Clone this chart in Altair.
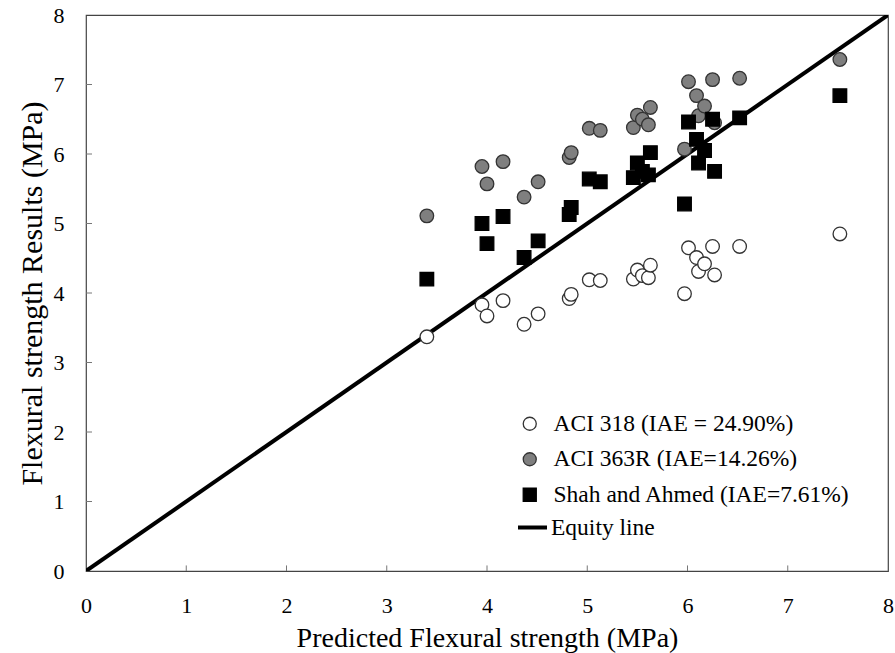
import altair as alt
import pandas as pd

# Shared predicted values (x) for the three models
predicted = [3.40, 3.95, 4.00, 4.16, 4.37, 4.51, 4.82, 4.84, 5.02, 5.13, 5.46, 5.50,
             5.55, 5.61, 5.63, 5.97, 6.01, 6.09, 6.11, 6.17, 6.25, 6.27, 6.52, 7.52]
aci318 = [3.37, 3.83, 3.67, 3.89, 3.55, 3.70, 3.92, 3.98, 4.19, 4.18, 4.20, 4.33,
          4.25, 4.22, 4.40, 3.99, 4.65, 4.51, 4.31, 4.42, 4.67, 4.26, 4.67, 4.85]
aci363 = [5.11, 5.82, 5.57, 5.89, 5.38, 5.60, 5.95, 6.02, 6.37, 6.34, 6.38, 6.56,
          6.50, 6.42, 6.67, 6.07, 7.04, 6.84, 6.55, 6.69, 7.07, 6.45, 7.09, 7.36]
shah = [4.20, 5.00, 4.71, 5.10, 4.51, 4.75, 5.13, 5.23, 5.64, 5.60, 5.66, 5.87,
        5.75, 5.70, 6.02, 5.28, 6.46, 6.21, 5.87, 6.05, 6.50, 5.75, 6.52, 6.84]

series_names = ["ACI 318 (IAE = 24.90%)", "ACI 363R (IAE=14.26%)",
                "Shah and Ahmed (IAE=7.61%)"]
line_name = ["Equity line"]
equity_x = [0, 8]
ticks = [1, 2, 3, 4, 5, 6, 7]

rows = []
for name, ys in zip(series_names, [aci318, aci363, shah]):
    for xv, yv in zip(predicted, ys):
        rows.append({"x": xv, "y": yv, "series": name})
pts = pd.DataFrame(rows)
line_df = pd.DataFrame({"x": equity_x, "y": equity_x, "series": line_name * 2})
xt = pd.DataFrame({"v": ticks, "z": 0.0, "z2": 0.08})
yt = pd.DataFrame({"v": ticks, "z": 0.0, "z2": 0.06})

FONT = "Liberation Serif"
xscale = alt.Scale(domain=[0, 8], nice=False, zero=False)
yscale = alt.Scale(domain=[0, 8], nice=False, zero=False)

xaxis = alt.Axis(values=[0, 1, 2, 3, 4, 5, 6, 7, 8], format="d", grid=False, domain=False,
                 ticks=False, labelFont=FONT, labelFontSize=22, labelColor="black",
                 labelPadding=24, title="Predicted Flexural strength (MPa)",
                 titleFont=FONT, titleFontSize=28, titleFontWeight="normal",
                 titleColor="black", titlePadding=8, labelFlush=False)
yaxis = alt.Axis(values=[0, 1, 2, 3, 4, 5, 6, 7, 8], format="d", grid=False, domain=False,
                 ticks=False, labelFont=FONT, labelFontSize=22, labelColor="black",
                 labelPadding=22, title="Flexural strength Results (MPa)",
                 titleFont=FONT, titleFontSize=30, titleFontWeight="normal",
                 titleColor="black", titlePadding=6, labelFlush=False)

pt_legend = alt.Legend(orient="none", legendX=432, legendY=397, title=None,
                       labelFont=FONT, labelFontSize=23.5, labelColor="black",
                       labelLimit=0, rowPadding=10.5, labelOffset=12,
                       symbolSize=170, symbolStrokeWidth=1.3)
line_legend = alt.Legend(orient="none", legendX=430, legendY=496, title=None,
                         labelFont=FONT, labelFontSize=23.5, labelColor="black",
                         labelLimit=0, labelOffset=2, symbolType="stroke",
                         symbolSize=841, symbolStrokeWidth=4, symbolStrokeColor="black")

fill_scale = alt.Scale(domain=series_names, range=["white", "#7f7f7f", "black"])
stroke_scale = alt.Scale(domain=series_names, range=["#333333", "#333333", "black"])
shape_scale = alt.Scale(domain=series_names, range=["circle", "circle", "square"])

equity = alt.Chart(line_df).mark_line(strokeWidth=4, clip=True).encode(
    x=alt.X("x:Q", scale=xscale, axis=xaxis),
    y=alt.Y("y:Q", scale=yscale, axis=yaxis),
    color=alt.Color("series:N", scale=alt.Scale(domain=line_name, range=["black"]),
                    legend=line_legend),
)

points = alt.Chart(pts).mark_point(filled=True, opacity=1, size=185, strokeWidth=1.3).encode(
    x=alt.X("x:Q", scale=xscale),
    y=alt.Y("y:Q", scale=yscale),
    fill=alt.Fill("series:N", scale=fill_scale, legend=pt_legend, sort=series_names),
    stroke=alt.Stroke("series:N", scale=stroke_scale, legend=pt_legend, sort=series_names),
    shape=alt.Shape("series:N", scale=shape_scale, legend=pt_legend, sort=series_names),
)

xticks = alt.Chart(xt).mark_rule(color="#777777", strokeWidth=1).encode(
    x="v:Q", y="z:Q", y2="z2:Q")
yticks = alt.Chart(yt).mark_rule(color="#777777", strokeWidth=1).encode(
    y="v:Q", x="z:Q", x2="z2:Q")

chart = alt.layer(xticks, yticks, equity, points).properties(
    width=802, height=556,
    autosize=alt.AutoSizeParams(type="none"),
    padding={"left": 86, "top": 15, "right": 7, "bottom": 82},
    background="white",
).configure_view(stroke="#444444", strokeWidth=1.2)

chart.save("out.html", embed_options={"renderer": "svg", "actions": False})
